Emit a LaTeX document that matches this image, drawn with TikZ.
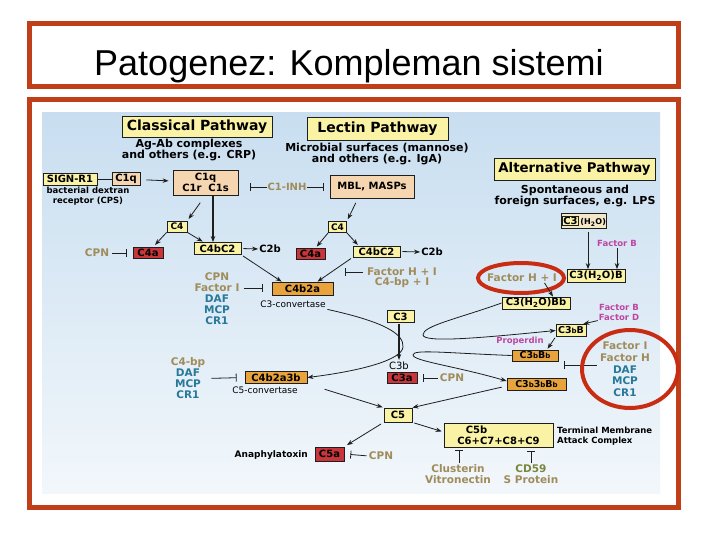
\documentclass[tikz,border=0pt]{standalone}
\usepackage{fontspec}
\setmainfont{DejaVu Sans}
\newfontfamily\titlefont{Liberation Sans}
\usetikzlibrary{arrows.meta,calc}
\definecolor{cframe}{RGB}{192,62,24}
\definecolor{cring}{RGB}{200,45,20}
\definecolor{ybox}{RGB}{250,242,165}
\definecolor{pbox}{RGB}{246,214,176}
\definecolor{cbox}{RGB}{244,232,200}
\definecolor{obox}{RGB}{232,163,61}
\definecolor{rbox}{RGB}{200,54,59}
\definecolor{ctan}{RGB}{160,140,90}
\definecolor{cteal}{RGB}{40,120,152}
\definecolor{cpink}{RGB}{190,70,160}
\definecolor{colive}{RGB}{120,135,60}
\definecolor{bgtop}{RGB}{200,222,240}
\definecolor{bgbot}{RGB}{242,247,251}
\definecolor{ink}{RGB}{30,30,30}
\newcommand{\smb}[1]{{\fontsize{7}{7}\selectfont #1}}
\tikzset{
  bx/.style={draw=ink, line width=0.8pt, inner sep=0.5pt, text=black,
    font=\fontsize{10}{11}\selectfont\bfseries},
  ybx/.style={bx, fill=ybox},
  pbx/.style={bx, fill=pbox},
  obx/.style={bx, fill=obox},
  rbx/.style={bx, fill=rbox},
  ttl/.style={ybx, font=\fontsize{14}{14}\selectfont\bfseries},
  desc/.style={inner sep=0pt, align=center, font=\fontsize{11}{11}\selectfont\bfseries},
  fac/.style={inner sep=0pt, align=center, text=ctan, font=\fontsize{10.5}{11}\selectfont\bfseries},
  pk/.style={inner sep=0pt, align=center, text=cpink, font=\fontsize{8.5}{10}\selectfont\bfseries},
  lbl/.style={inner sep=0pt, text=black, font=\fontsize{10}{11}\selectfont\bfseries},
  small/.style={inner sep=0pt, text=black, font=\fontsize{9}{10}\selectfont},
  arr/.style={draw=ink, line width=0.8pt, -{Stealth[length=6pt,width=4.5pt]}},
  inh/.style={draw=ink, line width=0.8pt, -{Bar[width=8pt,line width=0.8pt]}},
  ring/.style={draw=cring, line width=4pt},
}
\begin{document}
\begin{tikzpicture}[x=1pt,y=-1pt]
\useasboundingbox (0,0) rectangle (720,540);
\fill[white] (0,0) rectangle (720,540);
% frames
\draw[cframe, line width=5pt] (29.5,23.5) rectangle (678.5,86.5);
\node[anchor=base, inner sep=0pt, font=\titlefont\fontsize{36}{36}\selectfont] (title) at (349,76) {Patogenez: Kompleman sistemi};
\draw[cframe, line width=5pt] (29.5,99.5) rectangle (678.5,507);
\shade[top color=bgtop, bottom color=bgbot] (42,113) rectangle (660,493);

% pathway titles
\node[ttl, minimum width=150, minimum height=21] (cp) at (197,126.5) {Classical Pathway};
\node[ttl, minimum width=141, minimum height=23] (lp) at (377.5,128.5) {Lectin Pathway};
\node[ttl, minimum width=161, minimum height=22, font=\fontsize{13.3}{14}\selectfont\bfseries] (ap) at (574.5,169) {Alternative Pathway};
\node[desc] (cpd) at (189,150.5) {Ag-Ab complexes\\and others (e.g. CRP)};
\node[desc] (lpd) at (377,154) {Microbial surfaces (mannose)\\and others (e.g. IgA)};
\node[desc] (apd) at (575,196) {Spontaneous and\\foreign surfaces, e.g. LPS};

% classical top
\node[ybx, minimum width=54, minimum height=12] (sign) at (70,179) {SIGN-R1};
\node[pbx, minimum width=28, minimum height=13] (c1qs) at (126,179) {C1q};
\node[inner sep=0pt, align=center, font=\fontsize{8.5}{9.5}\selectfont\bfseries] (bdr) at (88,196) {bacterial dextran\\receptor (CPS)};
\node[pbx, minimum width=65, minimum height=25, align=center] (c1) at (205.5,182.5) {C1q\\C1r\ \ C1s};
\node[fac, font=\fontsize{10}{11}\selectfont\bfseries] (c1inh) at (287,187) {C1-INH};
\node[pbx, minimum width=84, minimum height=23] (mbl) at (372,186.5) {MBL, MASPs};
\draw[draw=ink, line width=0.8pt] (sign) -- (c1qs);
\draw[arr, shorten <=6pt, shorten >=4pt] (c1qs) -- (c1);
\draw[inh, shorten >=12pt] (c1inh.west) -- (c1.east |- c1inh.west);
\draw[inh, shorten >=6pt] (c1inh.east) -- (mbl.west |- c1inh.east);

% classical C4 level
\node[ybx, minimum width=20, minimum height=11, font=\fontsize{9}{10}\selectfont\bfseries] (c4c) at (177,226.5) {C4};
\node[rbx, minimum width=30, minimum height=11] (c4a1) at (148,253) {C4a};
\node[ybx, minimum width=47, minimum height=12] (c4bc21) at (217.5,248.5) {C4bC2};
\node[lbl] (c2b1) at (270,249) {C2b};
\node[fac] (cpn1) at (97,253) {CPN};
\draw[arr, shorten <=9pt, shorten >=2pt] (c1.south) -- (c4c.north east);
\draw[arr, line width=1.8pt] ([xshift=7.5pt]c1.south) -- ([xshift=7.5pt]c1.south |- c4bc21.north);
\draw[arr, shorten >=3pt] (c4c.south west) -- ([xshift=5pt]c4a1.north);
\draw[arr, shorten >=1pt] (c4c.south east) -- ([xshift=-14pt]c4bc21.north);
\draw[inh, shorten <=3pt, shorten >=6pt] (cpn1.east) -- (c4a1.west);
\draw[arr, shorten <=2pt, shorten >=1pt] (c4bc21.east) -- (c2b1.west);

% lectin C4 level
\node[ybx, minimum width=18, minimum height=11, font=\fontsize{9}{10}\selectfont\bfseries] (c4l) at (337.5,227) {C4};
\node[rbx, minimum width=29, minimum height=11] (c4a2) at (310.5,254) {C4a};
\node[ybx, minimum width=47, minimum height=11] (c4bc22) at (376.5,251.5) {C4bC2};
\node[lbl] (c2b2) at (432,252) {C2b};
\draw[arr, shorten <=5pt, shorten >=2pt] ([xshift=-14pt]mbl.south) -- (c4l.north east);
\draw[arr, shorten >=2pt] (c4l.south west) -- ([xshift=5pt]c4a2.north);
\draw[arr, shorten >=1pt] (c4l.south east) -- ([xshift=-18pt]c4bc22.north);
\draw[arr, shorten <=2pt, shorten >=1pt] (c4bc22.east) -- (c2b2.west);

% C3 convertase
\node[obx, minimum width=61, minimum height=13] (c4b2a) at (302.5,288.5) {C4b2a};
\node[small] (c3conv) at (293,304) {C3-convertase};
\node[fac] (fhi) at (402,272) {Factor H + I};
\node[fac] (c4bpi) at (402,283) {C4-bp + I};
\coordinate (fhiT) at (345,272);
\draw[inh, shorten <=4pt] (fhi.west) -- (fhiT);
\draw[arr, shorten <=2pt] (c4bc21.south east) -- ([xshift=10pt]c4b2a.north west);
\draw[arr, shorten <=2pt] (c4bc22.south west) -- ([xshift=15pt]c4b2a.north);
\node[fac, text=cteal] (stk1) at (217,299) {\textcolor{ctan}{CPN}\\\textcolor{ctan}{Factor I}\\DAF\\MCP\\CR1};
\draw[inh, shorten <=4pt, shorten >=9pt] ([yshift=11pt]stk1.east) -- ([yshift=11pt]stk1.east -| c4b2a.west);

% C3
\node[ybx, minimum width=27, minimum height=12] (c3) at (400.5,316.5) {C3};
\node[lbl, font=\fontsize{10}{11}\selectfont] (c3b) at (399,366) {C3b};
\node[rbx, minimum width=30, minimum height=11] (c3a) at (402,378) {C3a};
\node[fac] (cpn3) at (452,378) {CPN};
\draw[arr, line width=1.2pt, shorten <=1pt, shorten >=2pt] ([xshift=-1.5pt]c3.south) -- ([xshift=-1.5pt]c3.south |- c3b.north);
\draw[inh, shorten <=2pt, shorten >=6pt] (cpn3.west) -- (c3a.east);

% C5 convertase
\node[obx, minimum width=62, minimum height=12] (c4b2a3b) at (276,377.5) {C4b2a3b};
\node[small] (c5conv) at (265,390.5) {C5-convertase};
\node[fac, text=cteal] (stk2) at (188,378.5) {\textcolor{ctan}{C4-bp}\\DAF\\MCP\\CR1};
\draw[inh, shorten <=6pt, shorten >=8pt] (stk2.east) -- (c4b2a3b.west);
\draw[arr] ($(c4b2a.south east)+(-6,14)$) .. controls (385,322) and (404,334) .. (403,347) .. controls (402,360) and (360,371) .. (c4b2a3b.east);

% C5 level
\node[ybx, minimum width=28, minimum height=14] (c5) at (398,415) {C5};
\draw[arr, shorten <=18pt, shorten >=1pt] (c4b2a3b.south east) -- (c5.north west);
\node[rbx, minimum width=29, minimum height=14] (c5a) at (329.5,454) {C5a};
\node[inner sep=0pt, anchor=east, font=\fontsize{9}{10}\selectfont\bfseries] (anaph) at (308,455) {Anaphylatoxin};
\node[fac] (cpn5) at (381,456) {CPN};
\draw[arr, shorten <=3pt, shorten >=3pt] (c5.south west) -- (c5a.north east);
\draw[inh, shorten <=2pt, shorten >=6pt] (cpn5.west) -- (c5a.east);
\node[ybx, minimum width=109, minimum height=24, align=center] (c5b) at (498.5,435) {C5b\hspace*{44pt}\\C6+C7+C8+C9};
\draw[arr, shorten <=2pt, shorten >=2pt] (c5.south east) -- ([yshift=3pt]c5b.west);
\node[inner sep=0pt, anchor=west, align=left, font=\fontsize{8.5}{10}\selectfont\bfseries] (tmac) at (557,436) {Terminal Membrane\\Attack Complex};
\node[fac] (clus) at (458,474) {Clusterin\\Vitronectin};
\node[fac] (cd59) at (531,474) {\textcolor{colive}{CD59}\\S Protein};
\draw[inh, shorten <=1pt, shorten >=3pt] ([xshift=1pt]clus.north) -- ([xshift=1pt]clus.north |- c5b.south);
\draw[inh, shorten <=1pt, shorten >=4pt] (cd59.north) -- (cd59.north |- c5b.south);

% alternative pathway
\node[bx, fill=cbox, minimum width=42, minimum height=15] (c3h2o) at (584,221) {\setlength{\fboxsep}{0.8pt}\fcolorbox{ink}{ybox}{C3}\,{\fontsize{8}{9}\selectfont(H\textsubscript{2}O)}};
\node[pk] (facb) at (617,243) {Factor B};
\node[ybx, minimum width=58, minimum height=13] (c3h2ob) at (596,276) {C3(H\textsubscript{2}O)B};
\draw[arr, shorten <=3pt] ([xshift=4pt]c3h2o.south) -- ([xshift=4pt]c3h2o.south |- c3h2ob.north);
\draw[arr, shorten <=2pt] (facb.south) -- (facb.south |- c3h2ob.north);
\node[fac] (fhi2) at (522,278) {Factor H + I};
\draw[ring] (521,278) ellipse [x radius=43, y radius=15];
\node[ybx, minimum width=68, minimum height=12] (c3h2obb) at (536,303) {C3(H\textsubscript{2}O)Bb};
\draw[arr, shorten <=1pt] ([xshift=22pt]fhi2.south) -- ([xshift=17pt]c3h2obb.north);
\node[pk] (facbd) at (619,312) {Factor B\\Factor D};
\node[ybx, minimum width=30, minimum height=12, font=\fontsize{9.5}{10}\selectfont\bfseries] (c3bb) at (571,330.5) {C3\smb{b}B};
\draw[arr, shorten <=1pt, shorten >=1pt] (facbd.south west) -- ([xshift=-4pt]c3bb.north east);
\node[pk] (prop) at (520,341) {Properdin};
\node[obx, minimum width=46, minimum height=11, font=\fontsize{9.5}{10}\selectfont\bfseries] (c3bbb) at (535,355.5) {C3\smb{b}B\smb{b}};
\draw[arr, shorten <=1pt, shorten >=1pt] (c3bb.south west) -- ([xshift=12pt]c3bbb.north);
\node[obx, minimum width=59, minimum height=12, font=\fontsize{9.5}{10}\selectfont\bfseries] (c3b3bbb) at (536.5,384) {C3\smb{b}3\smb{b}B\smb{b}};
\node[fac, text=cteal, font=\fontsize{10.5}{11.7}\selectfont\bfseries] (stk3) at (625,369.5) {\textcolor{ctan}{Factor I}\\\textcolor{ctan}{Factor H}\\DAF\\MCP\\CR1};
\draw[inh, shorten <=3pt, shorten >=6pt] ([yshift=4.5pt]stk3.west) -- ([yshift=4.5pt]stk3.west -| c3bbb.east);
\draw[ring] (630,369) ellipse [x radius=48, y radius=39];

% alternative amplification loops
\draw[arr] (c3h2obb.west) .. controls (460,318) and (422,326) .. (423,335) .. controls (424,343) and (480,338) .. (c3bb.west);
\draw[arr] (c3bbb.west) .. controls (445,353) and (413,349) .. (413,355) .. controls (413,361) and (455,366) .. ([yshift=3pt]c3b3bbb.west);
\draw[arr, shorten <=5pt] ([yshift=-2pt]c3b3bbb.west) -- (c5.north east);
\end{tikzpicture}
\end{document}
